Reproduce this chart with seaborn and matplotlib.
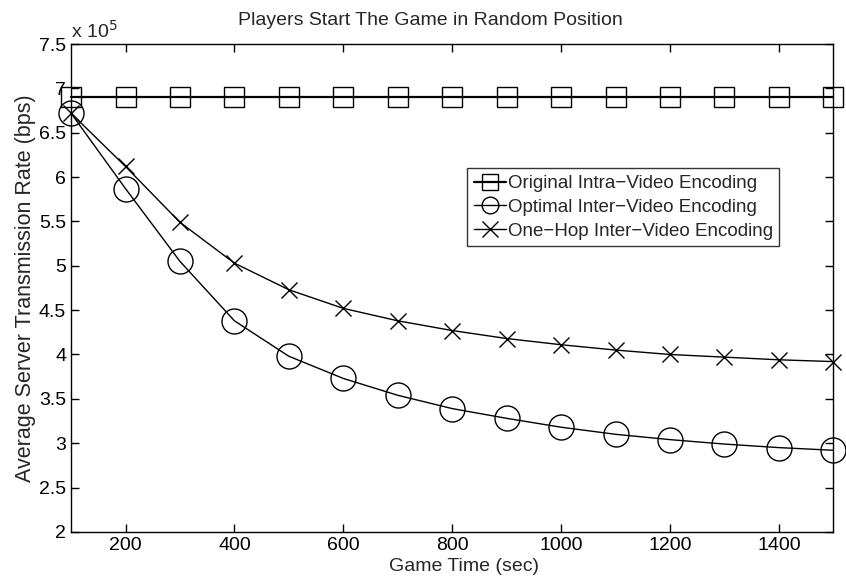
import matplotlib
matplotlib.use("Agg")
import matplotlib.pyplot as plt
import seaborn as sns
import pandas as pd

game_time = [100, 200, 300, 400, 500, 600, 700, 800, 900, 1000, 1100, 1200, 1300, 1400, 1500]
original_intra = [6.9e5] * 15
optimal_inter = [6.72e5, 5.87e5, 5.05e5, 4.38e5, 3.98e5, 3.73e5, 3.54e5, 3.39e5, 3.28e5,
                 3.18e5, 3.10e5, 3.04e5, 2.99e5, 2.95e5, 2.92e5]
onehop_inter = [6.72e5, 6.12e5, 5.49e5, 5.03e5, 4.73e5, 4.52e5, 4.38e5, 4.27e5, 4.18e5,
                4.11e5, 4.05e5, 4.00e5, 3.97e5, 3.94e5, 3.92e5]
labels = ["Original Intra\u2212Video Encoding",
          "Optimal Inter\u2212Video Encoding",
          "One\u2212Hop Inter\u2212Video Encoding"]

sns.set_theme(style="white")
plt.rcParams['font.family'] = ['Liberation Sans', 'DejaVu Sans']

fig, ax = plt.subplots(figsize=(8.46, 5.8), dpi=100)

series = [original_intra, optimal_inter, onehop_inter]
markers = ["s", "o", "x"]
sizes = [15, 18, 11]
widths = [1.6, 1.0, 1.0]
for vals, lab, m, ms, lw in zip(series, labels, markers, sizes, widths):
    df = pd.DataFrame({"t": game_time, "v": vals})
    sns.lineplot(data=df, x="t", y="v", ax=ax, color="black", linewidth=lw,
                 marker=m, markersize=ms, markerfacecolor="none",
                 markeredgecolor="black", markeredgewidth=1.0, label=lab)
for ln in ax.lines:
    ln.set_clip_on(False)

ax.set_xlim(100, 1500)
ax.set_ylim(2e5, 7.5e5)
ax.set_xticks([200, 400, 600, 800, 1000, 1200, 1400])
ax.set_yticks([v * 1e5 for v in [2, 2.5, 3, 3.5, 4, 4.5, 5, 5.5, 6, 6.5, 7, 7.5]])
ax.set_yticklabels(["2", "2.5", "3", "3.5", "4", "4.5", "5", "5.5", "6", "6.5", "7", "7.5"])
ax.tick_params(direction="in", length=6, width=1, labelsize=14, colors="black",
               top=True, right=True, bottom=True, left=True)
for s in ax.spines.values():
    s.set_color("black")
    s.set_linewidth(1.0)

ax.text(0.0, 1.005, "x 10$^5$", transform=ax.transAxes, fontsize=14, ha="left", va="bottom")
ax.set_title("Players Start The Game in Random Position", fontsize=14, pad=14, x=0.472)
ax.set_xlabel("Game Time (sec)", fontsize=14, labelpad=3, x=0.515)
ax.set_ylabel("Average Server Transmission Rate (bps)", fontsize=15.5, labelpad=2)

leg = ax.legend(loc="upper left", bbox_to_anchor=(0.52, 0.745), fontsize=13.5, frameon=True,
                fancybox=False, edgecolor="black", handlelength=1.7, handletextpad=0.1,
                borderpad=0.35, labelspacing=0.35, borderaxespad=0)
leg.get_frame().set_linewidth(1.0)
for h in leg.legend_handles:
    h.set_markersize(12)

fig.subplots_adjust(left=0.084, right=0.985, top=0.924, bottom=0.083)
fig.savefig("out.png", dpi=100)
